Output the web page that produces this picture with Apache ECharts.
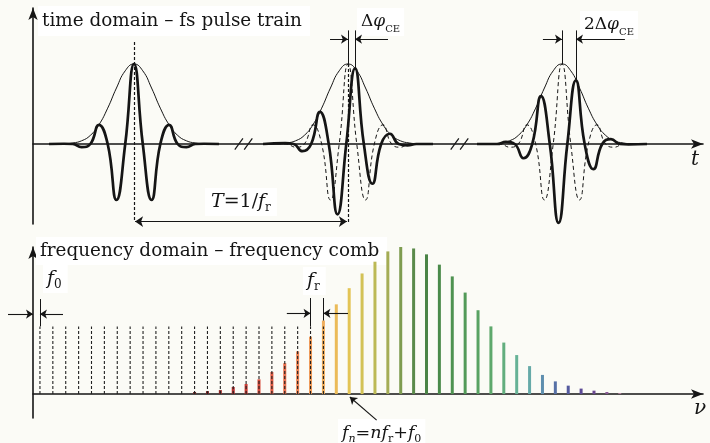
<!DOCTYPE html>
<html><head><meta charset="utf-8">
<script src="https://cdn.jsdelivr.net/npm/echarts@6/dist/echarts.min.js"></script>
<style>html,body{margin:0;padding:0;background:#fbfbf6}#c{width:710px;height:443px}</style>
</head><body><div id="c"></div>
<script>
// ===== time domain: t in units of the repetition period T, amplitude relative to envelope peak =====
const pulseCenters = [0, 1, 2];
const envelopePts = [[-0.397,0],[-0.327,0.003],[-0.286,0.013],[-0.245,0.040],[-0.204,0.108],[-0.164,0.240],[-0.123,0.448],[-0.082,0.700],[-0.041,0.915],[0,1],[0.041,0.915],[0.082,0.700],[0.123,0.448],[0.164,0.240],[0.204,0.108],[0.245,0.040],[0.286,0.013],[0.327,0.003],[0.397,0]];
// carrier with zero carrier-envelope offset (pulse 1 solid, pulses 2/3 dashed reference)
const carrierRef = [[-0.397,0],[-0.327,0.003],[-0.286,0],[-0.245,-0.040],[-0.204,0],[-0.164,0.240],[-0.123,0],[-0.082,-0.700],[-0.041,0],[0,1],[0.041,0],[0.082,-0.700],[0.123,0],[0.164,0.240],[0.204,0],[0.245,-0.040],[0.286,0],[0.327,0.003],[0.397,0]];
// carrier shifted by one Δφ_CE (pulse 2)
const carrierShift1 = [[-0.397,0],[-0.294,0.010],[-0.254,0],[-0.213,-0.090],[-0.172,0],[-0.131,0.401],[-0.090,0],[-0.049,-0.879],[-0.008,0],[0.033,0.945],[0.074,0],[0.114,-0.497],[0.155,0],[0.196,0.128],[0.237,0],[0.278,-0.016],[0.319,0],[0.397,0]];
// carrier shifted by 2Δφ_CE (pulse 3)
const carrierShift2 = [[-0.397,0],[-0.303,0],[-0.262,0.026],[-0.221,0],[-0.180,-0.178],[-0.139,0],[-0.098,0.598],[-0.057,0],[-0.016,-0.986],[0.025,0],[0.065,0.796],[0.106,0],[0.147,-0.315],[0.188,0],[0.229,0.061],[0.270,0],[0.311,-0.006],[0.397,0]];
const ceShift = 0.0327;          // carrier peak shift per pulse (in T)
const breakPositions = [0.512, 1.521];

// ===== frequency domain: ν in units of f_r, amplitude relative to strongest mode =====
const f0 = 0.54;                 // offset frequency in units of f_r
const dashedModes = [0,1,2,3,4,5,6,7,8,9,10,11,12,13,14,15,16,17,18,19,20,21,22];
const dashedHeight = 0.46;
const barModes = [12,13,14,15,16,17,18,19,20,21,22,23,24,25,26,27,28,29,30,31,32,33,34,35,36,37,38,39,40,41,42,43,44,45];
const barHeights = [0.014,0.02,0.027,0.048,0.068,0.10,0.15,0.21,0.29,0.39,0.50,0.61,0.72,0.82,0.90,0.97,1.00,0.99,0.95,0.88,0.80,0.69,0.57,0.46,0.35,0.265,0.19,0.13,0.086,0.057,0.037,0.023,0.014,0.007];
const barColors = ['#6e2a2a','#7e2828','#9a2c2c','#b33030','#c83a33','#d64a3a','#e05a42','#e86c4a','#ee8252','#f09a58','#f0ae5c','#ebbb58','#e3c455','#d3c256','#bcb955','#a4ac55','#7e9c50','#5a8a4a','#4a8446','#4a8a4a','#4e9250','#529a58','#58a262','#5ea86c','#62ae7e','#66b296','#66aaa8','#5e8eae','#5670a6','#545a9e','#5c4a96','#6a4890','#8a5a96','#b0809c'];

const chart = echarts.init(document.getElementById('c'));
const ink = '#151515';
const SERIF = '"DejaVu Serif", serif';

function place(pts, c) { return pts.map(p => [p[0] + c, p[1]]); }
const axisCommon = {
  axisTick: {show: false}, axisLabel: {show: false}, splitLine: {show: false}
};
function lineSeg(grid, data, style, symbol, size) {
  return {
    type: 'lines', coordinateSystem: 'cartesian2d', xAxisIndex: grid, yAxisIndex: grid,
    data: data.map(d => ({coords: d})), clip: false, silent: true,
    symbol: symbol || ['none', 'none'], symbolSize: size || 7,
    lineStyle: Object.assign({color: ink, width: 1, opacity: 1, curveness: 0}, style), z: 5
  };
}

const series = [];
// envelopes
pulseCenters.forEach(c => series.push({
  type: 'line', xAxisIndex: 0, yAxisIndex: 0, data: place(envelopePts, c), smooth: true,
  symbol: 'none', lineStyle: {color: ink, width: 1}, z: 3, silent: true
}));
// dashed reference carriers (pulses 2, 3)
[1, 2].forEach(c => series.push({
  type: 'line', xAxisIndex: 0, yAxisIndex: 0, data: place(carrierRef, c), smooth: true,
  symbol: 'none', lineStyle: {color: ink, width: 1, type: [4, 3]}, z: 3, silent: true
}));
// solid carriers
[[carrierRef, 0], [carrierShift1, 1], [carrierShift2, 2]].forEach(([pts, c]) => series.push({
  type: 'line', xAxisIndex: 0, yAxisIndex: 0, data: place(pts, c), smooth: true,
  symbol: 'none', lineStyle: {color: ink, width: 2.7}, z: 4, silent: true
}));
// top panel markers
const topTop = 1.42, arrowY = 1.31;
series.push(lineSeg(0, [
  [[1, 1.0], [1, topTop]],
  [[1 + ceShift, 0.945], [1 + ceShift, topTop]],
  [[2, 1.0], [2, topTop]],
  [[2 + 2 * ceShift, 0.796], [2 + 2 * ceShift, topTop]]
], {width: 1}));
series.push(lineSeg(0, [
  [[0, 1.275], [0, -0.975]],
  [[1, 1.0], [1, -0.975]]
], {width: 1.2, type: [3, 2]}));
series.push(lineSeg(0, [
  [[0.916, arrowY], [1, arrowY]],
  [[1.187, arrowY], [1 + ceShift, arrowY]],
  [[1.911, arrowY], [2, arrowY]],
  [[2.294, arrowY], [2 + 2 * ceShift, arrowY]]
], {width: 1}, ['none', 'arrow'], 7));
series.push(lineSeg(0, [[[0.005, -0.97], [0.995, -0.97]]], {width: 1.2}, ['arrow', 'arrow'], 8));
// axis breaks "//"
const brk = [];
breakPositions.forEach(b => [-0.022, 0.022].forEach(o => brk.push([[b + o - 0.019, -0.07], [b + o + 0.019, 0.07]])));
series.push(lineSeg(0, brk, {width: 1.2}));

// frequency comb bars
series.push({
  type: 'bar', xAxisIndex: 1, yAxisIndex: 1, barWidth: 3, silent: true,
  data: barModes.map((n, i) => ({value: [n + f0, barHeights[i]], itemStyle: {color: barColors[i]}})), z: 3
});
// dashed comb lines
series.push({
  type: 'custom', xAxisIndex: 1, yAxisIndex: 1, silent: true, z: 4,
  data: dashedModes.map(n => [n + f0, dashedHeight]),
  renderItem: (params, api) => {
    const p0 = api.coord([api.value(0), 0]);
    const p1 = api.coord([api.value(0), api.value(1)]);
    return {type: 'line', shape: {x1: p0[0], y1: p0[1], x2: p1[0], y2: p1[1]},
      style: {stroke: '#222', lineWidth: 1.1, lineDash: [3, 2]}};
  }
});
// bottom markers
series.push(lineSeg(1, [
  [[f0, dashedHeight], [f0, 0.646]],
  [[21 + f0, dashedHeight], [21 + f0, 0.653]],
  [[22 + f0, 0.50], [22 + f0, 0.653]]
], {width: 1}));
series.push(lineSeg(1, [
  [[-1.94, 0.544], [0, 0.544]],
  [[2.33, 0.544], [f0, 0.544]],
  [[19.7, 0.549], [21 + f0, 0.549]],
  [[24.45, 0.549], [22 + f0, 0.549]],
  [[26.67, -0.177], [24 + f0 + 0.05, -0.02]]
], {width: 1.1}, ['none', 'arrow'], 7));

function label(x, y, text, rich, extra) {
  return Object.assign({
    type: 'text', x: x, y: y, z: 1, silent: true,
    style: Object.assign({text: text, font: '18.4px ' + SERIF, fill: ink, align: 'left', verticalAlign: 'top', rich: rich}, extra || {})
  });
}
const mainSty = {fontSize: 17, fontFamily: SERIF, lineHeight: 24, fill: ink};
const itSty = Object.assign({}, mainSty, {fontStyle: 'italic'});
const subSty = {fontSize: 10, fontFamily: SERIF, lineHeight: 3, verticalAlign: 'bottom', fill: ink};
const richA = {u: mainSty, i: itSty, s: subSty};
const main19 = {fontSize: 19, fontFamily: SERIF, lineHeight: 24, fill: ink};
const it19 = Object.assign({}, main19, {fontStyle: 'italic'});
const sub12 = {fontSize: 12, fontFamily: SERIF, lineHeight: 8, verticalAlign: 'bottom', fill: ink};
const sub12i = Object.assign({}, sub12, {fontStyle: 'italic'});
const richB = {u: main19, i: it19, s: sub12, si: sub12i};
const main18 = Object.assign({}, main19, {fontSize: 17.5});
const it18 = Object.assign({}, main18, {fontStyle: 'italic'});
const sub11 = Object.assign({}, sub12, {fontSize: 11});
const sub11i = Object.assign({}, sub11, {fontStyle: 'italic'});
const richC = {u: main18, i: it18, s: sub11, si: sub11i};

const graphics = [
  label(38, 21, 'time domain – fs pulse train', null, {verticalAlign: 'middle', backgroundColor: '#fff', padding: [6, 8, 6, 4]}),
  label(36, 251, 'frequency domain – frequency comb', null, {verticalAlign: 'middle', backgroundColor: '#fff', padding: [5, 8, 5, 4]}),
  label(357, 8, '{u|Δ}{i|φ}{s|CE}', richA, {backgroundColor: '#fff', padding: [2, 4, 2, 4]}),
  label(580, 11, '{u|2Δ}{i|φ}{s|CE}', richA, {backgroundColor: '#fff', padding: [2, 4, 2, 4]}),
  label(205, 188, '{i|T}{u|=1/}{i|f}{s|r}', richB, {backgroundColor: '#fff', padding: [2, 6, 2, 6]}),
  label(43, 265, '{i|f}{s|0}', richB, {backgroundColor: '#fff', padding: [2, 6, 2, 4]}),
  label(303, 267, '{i|f}{s|r}', richB, {backgroundColor: '#fff', padding: [2, 6, 2, 4]}),
  label(338, 419, '{i|f}{si|n}{u|=}{i|nf}{s|r}{u|+}{i|f}{s|0}', richC, {backgroundColor: '#fff', padding: [2, 4, 0, 4]}),
  label(691, 160, 't', null, {font: 'italic 20px ' + SERIF, verticalAlign: 'middle'}),
  label(694, 409, 'ν', null, {font: 'italic 20px ' + SERIF, verticalAlign: 'middle'})
];

const axisLineStyle = {color: ink, width: 1.6};
chart.setOption({
  backgroundColor: '#fbfbf6',
  animation: false,
  grid: [
    {left: 33, right: 7, top: 8, height: 216},
    {left: 33, right: 7, top: 247, height: 171}
  ],
  xAxis: [
    Object.assign({gridIndex: 0, type: 'value', min: -0.472, max: 2.659,
      axisLine: {show: true, onZero: true, symbol: ['none', 'arrow'], symbolSize: [7, 12], lineStyle: axisLineStyle}}, axisCommon),
    Object.assign({gridIndex: 1, type: 'value', min: 0, max: 52,
      axisLine: {show: true, onZero: true, symbol: ['none', 'arrow'], symbolSize: [7, 12], lineStyle: axisLineStyle}}, axisCommon)
  ],
  yAxis: [
    Object.assign({gridIndex: 0, type: 'value', min: -1, max: 1.7,
      axisLine: {show: true, onZero: false, symbol: ['none', 'arrow'], symbolSize: [7, 12], lineStyle: axisLineStyle}}, axisCommon),
    Object.assign({gridIndex: 1, type: 'value', min: -0.163, max: 1.0,
      axisLine: {show: true, onZero: false, symbol: ['none', 'arrow'], symbolSize: [7, 12], lineStyle: axisLineStyle}}, axisCommon)
  ],
  graphic: graphics,
  series: series
});
</script></body></html>
